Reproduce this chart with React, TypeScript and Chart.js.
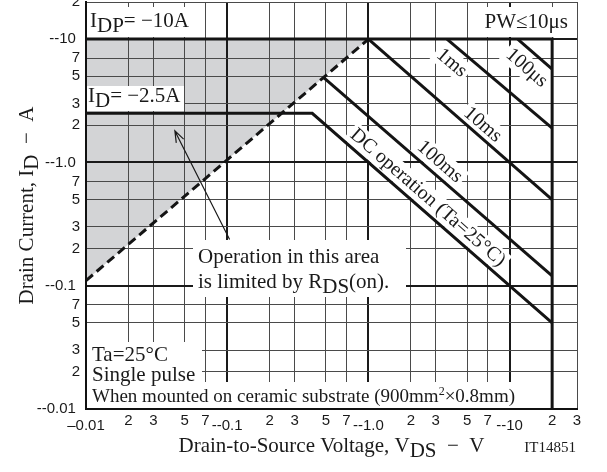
import React, { useEffect, useRef } from 'react';
import { Chart, registerables } from 'chart.js';

Chart.register(...registerables);

// ---- tick values / labels ----
const xTickValues = [0.01, 0.02, 0.03, 0.05, 0.07, 0.1, 0.2, 0.3, 0.5, 0.7, 1, 2, 3, 5, 7, 10, 20, 30];
const xTickLabels = ['–0.01', '2', '3', '5', '7', '--0.1', '2', '3', '5', '7', '--1.0', '2', '3', '5', '7', '--10', '2', '3'];
const yTickValues = [0.01, 0.02, 0.03, 0.05, 0.07, 0.1, 0.2, 0.3, 0.5, 0.7, 1, 2, 3, 5, 7, 10, 20];
const yTickLabels = ['--0.01 ', '2', '3', '5', '7', '--0.1 ', '2', '3', '5', '7', '--1.0 ', '2', '3', '5', '7', '--10 ', '2'];

// ---- SOA boundaries: |VDS| (V) and |ID| (A) ----
const shadeTopV = [0.01, 1];
const shadeTopI = [10, 10];
const rdsLimitV = [0.01, 1];
const rdsLimitI = [0.11, 10];
const idpLimitV = [0.01, 20, 20];
const idpLimitI = [10, 10, 0.01];
const pw100usV = [11.4, 20];
const pw100usI = [10, 5.7];
const pw1msV = [3.6, 20];
const pw1msI = [10, 1.9];
const pw10msV = [1, 20];
const pw10msI = [10, 0.5];
const pw100msV = [0.48, 20];
const pw100msI = [4.9, 0.12];
const dcV = [0.01, 0.4, 20];
const dcI = [2.5, 2.5, 0.05];

const pts = (vs: number[], is: number[]) => vs.map((v, k) => ({ x: v, y: is[k] }));

const SERIF = '"Liberation Serif", "Times New Roman", Times, serif';
const SANS = '"Liberation Sans", Arial, Helvetica, sans-serif';
const LINE = '#141414';

const isDecade = (v: number) => {
  const l = Math.log10(v);
  return Math.abs(l - Math.round(l)) < 1e-6;
};

type Seg = { t: string; sub?: boolean; sup?: boolean };

function drawRich(ctx: CanvasRenderingContext2D, segs: Seg[], x: number, y: number, size: number, align: 'left' | 'right' | 'center' = 'left') {
  const widths = segs.map((s) => {
    ctx.font = `${s.sup ? Math.round(size * 0.62) : size}px ${SERIF}`;
    return ctx.measureText(s.t).width;
  });
  const total = widths.reduce((a, b) => a + b, 0);
  let cx = align === 'left' ? x : align === 'right' ? x - total : x - total / 2;
  ctx.textAlign = 'left';
  ctx.textBaseline = 'alphabetic';
  segs.forEach((s, k) => {
    ctx.font = `${s.sup ? Math.round(size * 0.62) : size}px ${SERIF}`;
    const dy = s.sub ? size * 0.26 : s.sup ? -size * 0.38 : 0;
    ctx.fillText(s.t, cx, y + dy);
    cx += widths[k];
  });
}

// curve labels: dataset index, text, anchor (V, I)
const curveLabels = [
  { ds: 3, text: '100μs', at: [13.2, 5.83] },
  { ds: 4, text: '1ms', at: [3.89, 6.4] },
  { ds: 5, text: '10ms', at: [6.44, 2.02] },
  { ds: 6, text: '100ms', at: [3.2, 1.01] },
  { ds: 7, text: 'DC operation (Ta=25°C)', at: [2.63, 0.518] },
];

function labelGeom(chart: any, l: { ds: number; at: number[] }) {
  const xs = chart.scales.x;
  const ys = chart.scales.y;
  const data = chart.data.datasets[l.ds].data as { x: number; y: number }[];
  const a = data[data.length - 2];
  const b = data[data.length - 1];
  const ang = Math.atan2(ys.getPixelForValue(b.y) - ys.getPixelForValue(a.y), xs.getPixelForValue(b.x) - xs.getPixelForValue(a.x));
  return { px: xs.getPixelForValue(l.at[0]), py: ys.getPixelForValue(l.at[1]), ang };
}

// white label boxes, relative to chart area (left, top)
const boxes = [
  { x: 1, y: 5, w: 106, h: 30 },
  { x: 393, y: 5, w: 98, h: 30 },
  { x: 1, y: 84, w: 97, h: 25 },
  { x: 107, y: 238, w: 213, h: 57 },
  { x: 1, y: 340, w: 115, h: 41 },
  { x: 1, y: 380, w: 435, h: 26 },
];

const annotPlugin = {
  id: 'annot',
  beforeDatasetsDraw(chart: any) {
    const ctx: CanvasRenderingContext2D = chart.ctx;
    const ca = chart.chartArea;
    ctx.save();
    ctx.fillStyle = '#ffffff';
    boxes.forEach((b) => ctx.fillRect(ca.left + b.x, ca.top + b.y, b.w, b.h));
    ctx.font = `20px ${SERIF}`;
    curveLabels.forEach((l) => {
      const g = labelGeom(chart, l);
      const w = ctx.measureText(l.text).width;
      ctx.save();
      ctx.translate(g.px, g.py);
      ctx.rotate(g.ang);
      ctx.fillRect(-w / 2 - 3, -11, w + 6, 22);
      ctx.restore();
    });
    ctx.restore();
  },
  afterDraw(chart: any) {
    const ctx: CanvasRenderingContext2D = chart.ctx;
    const ca = chart.chartArea;
    const xs = chart.scales.x;
    const ys = chart.scales.y;
    const L = ca.left;
    const T = ca.top;
    ctx.save();
    ctx.fillStyle = '#1a1a1a';

    // rotated curve labels
    ctx.font = `20px ${SERIF}`;
    curveLabels.forEach((l) => {
      const g = labelGeom(chart, l);
      ctx.save();
      ctx.translate(g.px, g.py);
      ctx.rotate(g.ang);
      ctx.textAlign = 'center';
      ctx.textBaseline = 'middle';
      ctx.fillText(l.text, 0, 0);
      ctx.restore();
    });

    // in-plot texts
    drawRich(ctx, [{ t: 'I' }, { t: 'DP', sub: true }, { t: '= −10A' }], L + 4, T + 25, 21);
    drawRich(ctx, [{ t: 'PW≤10μs' }], L + 482, T + 26, 21, 'right');
    drawRich(ctx, [{ t: 'I' }, { t: 'D', sub: true }, { t: '= −2.5A' }], L + 2, T + 100, 21);
    drawRich(ctx, [{ t: 'Operation in this area' }], L + 112, T + 261, 21);
    drawRich(ctx, [{ t: 'is limited by R' }, { t: 'DS', sub: true }, { t: '(on).' }], L + 112, T + 286, 21);
    drawRich(ctx, [{ t: 'Ta=25°C' }], L + 6, T + 359, 21);
    drawRich(ctx, [{ t: 'Single pulse' }], L + 6, T + 379, 21);
    drawRich(ctx, [{ t: 'When mounted on ceramic substrate (900mm' }, { t: '2', sup: true }, { t: '×0.8mm)' }], L + 6, T + 400, 19);

    // arrow
    const ax0 = xs.getPixelForValue(0.104);
    const ay0 = ys.getPixelForValue(0.237);
    const ax1 = xs.getPixelForValue(0.0426);
    const ay1 = ys.getPixelForValue(1.8);
    ctx.strokeStyle = '#1a1a1a';
    ctx.lineWidth = 1.2;
    ctx.beginPath();
    ctx.moveTo(ax0, ay0);
    ctx.lineTo(ax1, ay1);
    const ang = Math.atan2(ay0 - ay1, ax0 - ax1);
    const hl = 12;
    ctx.moveTo(ax1 + hl * Math.cos(ang + 0.35), ay1 + hl * Math.sin(ang + 0.35));
    ctx.lineTo(ax1, ay1);
    ctx.lineTo(ax1 + hl * Math.cos(ang - 0.35), ay1 + hl * Math.sin(ang - 0.35));
    ctx.stroke();

    // axis titles
    const cx = (ca.left + ca.right) / 2;
    const cy = (ca.top + ca.bottom) / 2;
    drawRich(ctx, [{ t: 'Drain-to-Source Voltage, V' }, { t: 'DS', sub: true }, { t: '  −  V' }], cx, ca.bottom + 43, 21, 'center');
    ctx.save();
    ctx.translate(33, cy);
    ctx.rotate(-Math.PI / 2);
    drawRich(ctx, [{ t: 'Drain Current, I' }, { t: 'D', sub: true }, { t: '  −  A' }], 0, 0, 21, 'center');
    ctx.restore();
    drawRich(ctx, [{ t: 'IT14851' }], ca.right - 1, ca.bottom + 43, 15, 'right');
    ctx.restore();
  },
};

export default function App() {
  const ref = useRef<HTMLCanvasElement>(null);
  useEffect(() => {
    document.body.style.margin = '0';
    const lineDs = (data: any[], extra: any = {}) => ({
      data,
      borderColor: LINE,
      borderWidth: 3,
      pointRadius: 0,
      fill: false,
      tension: 0,
      ...extra,
    });
    const gridColor = (ctx: any) => (ctx.tick && isDecade(ctx.tick.value) ? '#1a1a1a' : '#4a4a4a');
    const gridWidth = (ctx: any) => (ctx.tick && isDecade(ctx.tick.value) ? 2 : 1);
    const chart = new Chart(ref.current as HTMLCanvasElement, {
      type: 'line',
      data: {
        datasets: [
          lineDs(pts(shadeTopV, shadeTopI), { borderWidth: 0, borderColor: 'rgba(0,0,0,0)', backgroundColor: '#d3d4d6', fill: '+1' }),
          lineDs(pts(rdsLimitV, rdsLimitI), { borderDash: [9, 5] }),
          lineDs(pts(idpLimitV, idpLimitI)),
          lineDs(pts(pw100usV, pw100usI)),
          lineDs(pts(pw1msV, pw1msI)),
          lineDs(pts(pw10msV, pw10msI)),
          lineDs(pts(pw100msV, pw100msI)),
          lineDs(pts(dcV, dcI)),
        ],
      } as any,
      options: {
        responsive: false,
        animation: false,
        events: [],
        layout: { padding: { left: 0, right: 30, top: 2, bottom: 0 } },
        plugins: {
          legend: { display: false },
          tooltip: { enabled: false },
          filler: { drawTime: 'beforeDraw', propagate: false },
        } as any,
        scales: {
          x: {
            type: 'logarithmic',
            min: 0.01,
            max: 30,
            afterBuildTicks: (s: any) => {
              s.ticks = xTickValues.map((v) => ({ value: v }));
            },
            afterFit: (s: any) => {
              s.height = 63;
              s.paddingLeft = 0;
              s.paddingRight = 0;
            },
            ticks: {
              autoSkip: false,
              maxRotation: 0,
              minRotation: 0,
              padding: 3,
              color: '#1a1a1a',
              font: (ctx: any) => ({ family: SANS, size: 15, lineHeight: ctx.tick && isDecade(ctx.tick.value) ? 1.87 : 1.2 }),
              callback: (_v: any, i: number) => xTickLabels[i],
            },
            grid: { drawTicks: false, color: gridColor, lineWidth: gridWidth },
            border: { display: true, color: '#111', width: 2 },
          },
          y: {
            type: 'logarithmic',
            min: 0.01,
            max: 20,
            afterBuildTicks: (s: any) => {
              s.ticks = yTickValues.map((v) => ({ value: v }));
            },
            afterFit: (s: any) => {
              s.width = 86;
              s.paddingTop = 0;
              s.paddingBottom = 0;
            },
            ticks: {
              autoSkip: false,
              padding: 6,
              color: '#1a1a1a',
              font: { family: SANS, size: 15 },
              callback: (_v: any, i: number) => yTickLabels[i],
            },
            grid: { drawTicks: false, color: gridColor, lineWidth: gridWidth },
            border: { display: true, color: '#111', width: 2 },
          },
        } as any,
      },
      plugins: [annotPlugin],
    });
    return () => chart.destroy();
  }, []);
  return (
    <div style={{ width: 607, height: 472 }}>
      <canvas ref={ref} width={607} height={472} style={{ display: 'block', width: 607, height: 472 }} />
    </div>
  );
}
